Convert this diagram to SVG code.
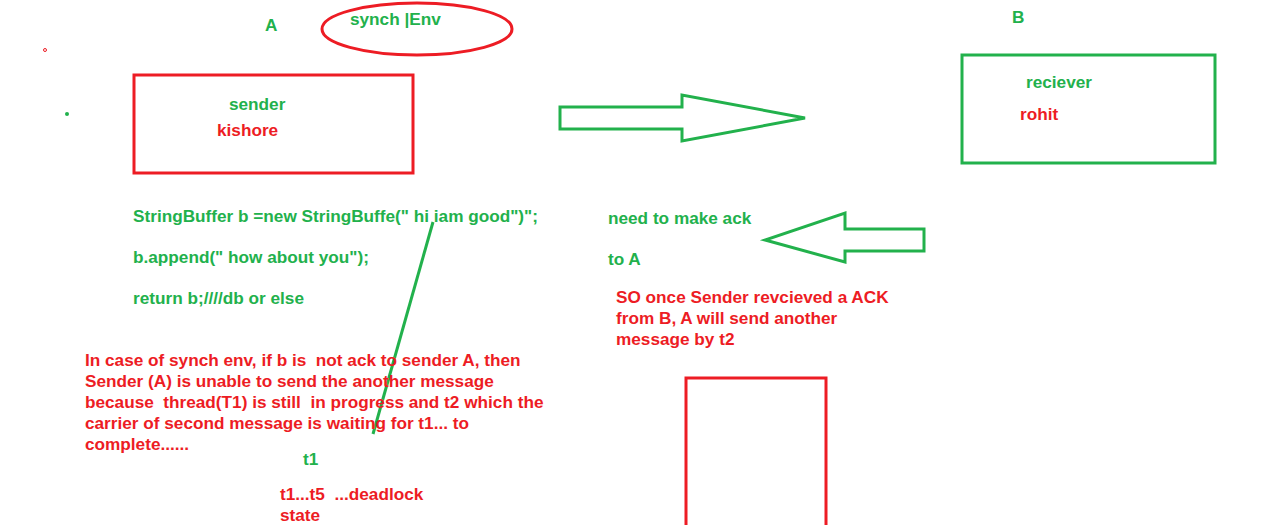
<svg xmlns="http://www.w3.org/2000/svg" width="1280" height="525" viewBox="0 0 1280 525">
<style>
text{font-family:"Liberation Sans",Arial,sans-serif;font-weight:bold;font-size:17.2px}
.g{fill:#22b14c}
.r{fill:#ed1c24}
.sg{fill:none;stroke:#22b14c;stroke-width:3}
.sr{fill:none;stroke:#ed1c24;stroke-width:3}
</style>
<rect width="1280" height="525" fill="#fff"/>
<circle cx="45" cy="50" r="1.5" fill="none" stroke="#ed1c24" stroke-width="1"/>
<circle cx="67" cy="114" r="2" fill="#22b14c"/>
<text class="g" x="265" y="31">A</text>
<g id="synch">
<ellipse class="sr" cx="417" cy="29" rx="95" ry="26"/>
<text class="g" x="350" y="25">synch |Env</text>
</g>
<g id="sender">
<rect class="sr" x="134" y="75" width="279" height="98"/>
<text class="g" x="229" y="110">sender</text>
<text class="r" x="217" y="136">kishore</text>
</g>
<text class="g" x="1012" y="23">B</text>
<g id="receiver">
<rect class="sg" x="962" y="55" width="253" height="108"/>
<text class="g" x="1026" y="88">reciever</text>
<text class="r" x="1020" y="120">rohit</text>
</g>
<g id="connectors">
<polygon class="sg" points="560,107 682,107 682,95 805,118 682,141 682,129 560,129"/>
<polygon class="sg" points="924,229 845,229 845,213 765,240 845,262 845,251 924,251"/>
<line x1="433" y1="222" x2="373" y2="434" stroke="#22b14c" stroke-width="3"/>
</g>
<g id="code">
<text class="g" x="133" y="222">StringBuffer b =new StringBuffe(" hi iam good")";</text>
<text class="g" x="133" y="263">b.append(" how about you");</text>
<text class="g" x="133" y="304">return b;////db or else</text>
</g>
<g id="ack">
<text class="g" x="608" y="224">need to make ack</text>
<text class="g" x="608" y="265">to A</text>
<text class="r" x="616" y="303">SO once Sender revcieved a ACK</text>
<text class="r" x="616" y="324">from B, A will send another</text>
<text class="r" x="616" y="345">message by t2</text>
</g>
<g id="note">
<text class="r" x="85" y="366" xml:space="preserve">In case of synch env, if b is  not ack to sender A, then</text>
<text class="r" x="85" y="387">Sender (A) is unable to send the another message</text>
<text class="r" x="85" y="408" xml:space="preserve">because  thread(T1) is still  in progress and t2 which the</text>
<text class="r" x="85" y="429">carrier of second message is waiting for t1... to</text>
<text class="r" x="85" y="450">complete......</text>
</g>
<text class="g" x="303" y="465">t1</text>
<g id="deadlock">
<text class="r" x="280" y="500" xml:space="preserve">t1...t5  ...deadlock</text>
<text class="r" x="280" y="521">state</text>
</g>
<g id="box">
<rect class="sr" x="686" y="378" width="140" height="160"/>
</g>
</svg>
